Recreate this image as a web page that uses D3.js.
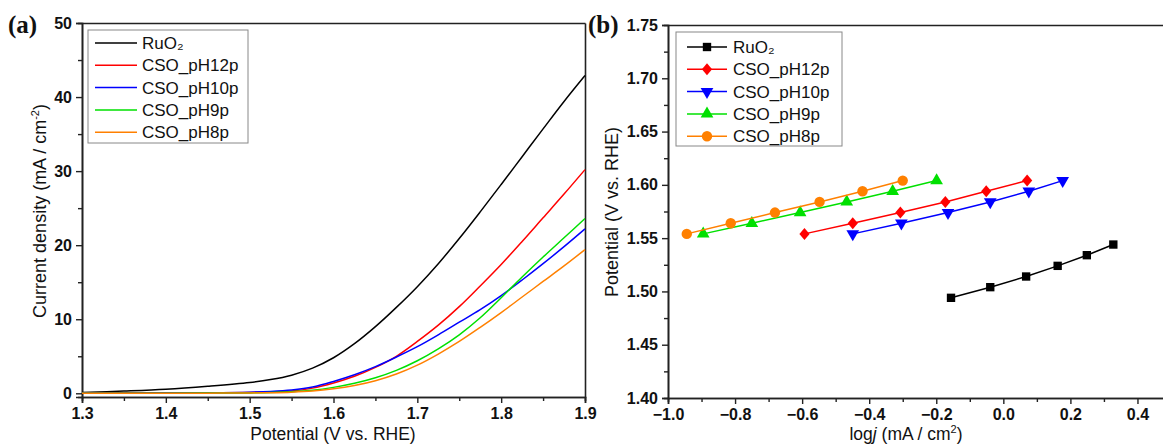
<!DOCTYPE html>
<html><head><meta charset="utf-8">
<script src="https://cdn.jsdelivr.net/npm/d3@7"></script>
<style>
html,body{margin:0;padding:0;background:#fff;overflow:hidden}
</style></head>
<body><svg id="c" width="1163" height="446" font-family="'Liberation Sans',Arial,sans-serif"></svg>
<script>
// ---------- Panel (a) data: LSV curves ----------
const potential = [1.30,1.35,1.40,1.45,1.50,1.525,1.55,1.575,1.60,1.625,1.65,1.675,1.70,1.725,1.75,1.775,1.80,1.825,1.85,1.875,1.90];
const jRuO2   = [0.1,0.3,0.55,0.95,1.45,1.85,2.45,3.4,4.8,6.7,9.0,11.6,14.4,17.5,20.9,24.5,28.2,31.95,35.7,39.4,42.9];
const jPH12   = [0.05,0.05,0.05,0.08,0.12,0.2,0.3,0.7,1.4,2.3,3.5,5.0,7.0,9.2,11.7,14.5,17.4,20.5,23.7,26.9,30.2];
const jPH10   = [0.05,0.05,0.06,0.08,0.15,0.25,0.45,0.85,1.6,2.5,3.6,4.9,6.3,7.9,9.6,11.3,13.2,15.3,17.5,19.8,22.2];
const jPH9    = [0.0,0.0,0.02,0.03,0.05,0.1,0.2,0.4,0.8,1.35,2.1,3.1,4.4,6.0,7.9,10.2,12.9,15.7,18.4,21.0,23.6];
const jPH8    = [0.0,0.0,0.0,0.02,0.05,0.08,0.15,0.3,0.6,1.05,1.7,2.6,3.8,5.3,7.0,8.9,10.9,13.0,15.1,17.2,19.4];
const seriesNames = ["RuO\u2082","CSO_pH12p","CSO_pH10p","CSO_pH9p","CSO_pH8p"];
const seriesColors = ["#000000","#ff0000","#0000ff","#00e000","#ff8000"];
const aXTicks = [1.3,1.4,1.5,1.6,1.7,1.8,1.9];
const aYTicks = [0,10,20,30,40,50];

// ---------- Panel (b) data: Tafel plots ----------
const tafelPot = [1.554,1.564,1.574,1.584,1.594,1.604];
const tafelRuO2Pot = [1.494,1.504,1.514,1.524,1.534,1.544];
const logjRuO2 = [-0.156,-0.039,0.068,0.162,0.249,0.328];
const logjPH12 = [-0.593,-0.449,-0.307,-0.173,-0.051,0.071];
const logjPH10 = [-0.449,-0.304,-0.165,-0.039,0.076,0.177];
const logjPH9  = [-0.895,-0.750,-0.606,-0.467,-0.330,-0.199];
const logjPH8  = [-0.944,-0.813,-0.681,-0.548,-0.420,-0.300];
const bXTicks = [-1.0,-0.8,-0.6,-0.4,-0.2,0.0,0.2,0.4];
const bYTicks = [1.40,1.45,1.50,1.55,1.60,1.65,1.70,1.75];

const svg = d3.select("#c");
const axisColor = "#222";

function styleAxis(g){
  g.select(".domain").attr("stroke",axisColor).attr("stroke-width",1.6);
  g.selectAll(".tick line").attr("stroke",axisColor).attr("stroke-width",1.4);
  g.selectAll(".tick text").attr("font-family","'Liberation Sans',Arial,sans-serif")
    .attr("font-weight","bold").attr("font-size",16).attr("fill","#111");
}

// ================= Panel (a) =================
const ax = d3.scaleLinear().domain([1.3,1.9]).range([82,585]);
const ay = d3.scaleLinear().domain([-0.5,50]).range([397,23]);

svg.append("g").attr("transform","translate(0,397)")
  .call(d3.axisBottom(ax).tickValues(d3.range(1.35,1.9,0.1)).tickSize(4).tickFormat(""))
  .call(styleAxis);
svg.append("g").attr("transform","translate(82,0)")
  .call(d3.axisLeft(ay).tickValues([5,15,25,35,45]).tickSize(4).tickFormat(""))
  .call(styleAxis);
svg.append("g").attr("transform","translate(0,397)")
  .call(d3.axisBottom(ax).tickValues(aXTicks).tickSize(6).tickPadding(5).tickFormat(d3.format(".1f")))
  .call(styleAxis);
svg.append("g").attr("transform","translate(82,0)")
  .call(d3.axisLeft(ay).tickValues(aYTicks).tickSize(6).tickPadding(4).tickFormat(d3.format("d")))
  .call(styleAxis);
svg.append("g").attr("transform","translate(0,23)")
  .call(d3.axisTop(ax).tickValues([]).tickSizeOuter(0)).call(styleAxis);
svg.append("g").attr("transform","translate(585,0)")
  .call(d3.axisRight(ay).tickValues([]).tickSizeOuter(0)).call(styleAxis);

const aSeries = [jRuO2,jPH12,jPH10,jPH9,jPH8];
const line = d3.line().x(d=>ax(d[0])).y(d=>ay(d[1])).curve(d3.curveCatmullRom.alpha(0.5));
[0,1,2,3,4].forEach(i=>{
  svg.append("path").datum(potential.map((p,k)=>[p,aSeries[i][k]]))
    .attr("d",line).attr("fill","none").attr("stroke",seriesColors[i]).attr("stroke-width",1.5);
});

// legend (a)
const legA = svg.append("g");
legA.append("rect").attr("x",88).attr("y",30).attr("width",160).attr("height",113)
  .attr("fill","#fff").attr("stroke","#888").attr("stroke-width",1);
seriesNames.forEach((n,i)=>{
  const yy = 43 + i*22.3;
  legA.append("line").attr("x1",95).attr("x2",137).attr("y1",yy).attr("y2",yy)
    .attr("stroke",seriesColors[i]).attr("stroke-width",1.5);
  legA.append("text").attr("x",142).attr("y",yy+6).attr("font-size",17).attr("fill","#111").text(n);
});

svg.append("text").attr("x",8).attr("y",33).attr("font-family","'Liberation Serif','Times New Roman',serif")
  .attr("font-weight","bold").attr("font-size",25).attr("fill","#111").text("(a)");
const ytA = svg.append("text").attr("transform","translate(46,211) rotate(-90)")
  .attr("text-anchor","middle").attr("font-size",18).attr("fill","#111");
ytA.append("tspan").text("Current density (mA / cm");
ytA.append("tspan").attr("dy",-7).attr("font-size",11).text("-2");
ytA.append("tspan").attr("dy",7).text(")");
svg.append("text").attr("x",333).attr("y",440).attr("text-anchor","middle")
  .attr("font-size",17.5).attr("fill","#111").text("Potential (V vs. RHE)");

// ================= Panel (b) =================
const bx = d3.scaleLinear().domain([-1.0,0.5]).range([668,1171]);
const by = d3.scaleLinear().domain([1.40,1.75]).range([398,25]);

svg.append("g").attr("transform","translate(0,398)")
  .call(d3.axisBottom(bx).tickValues(d3.range(-0.9,0.5,0.2)).tickSize(4).tickFormat(""))
  .call(styleAxis);
svg.append("g").attr("transform","translate(668,0)")
  .call(d3.axisLeft(by).tickValues(d3.range(1.425,1.75,0.05)).tickSize(4).tickFormat(""))
  .call(styleAxis);
svg.append("g").attr("transform","translate(0,398)")
  .call(d3.axisBottom(bx).tickValues(bXTicks).tickSize(6).tickPadding(5).tickFormat(d3.format(".1f")))
  .call(styleAxis);
svg.append("g").attr("transform","translate(668,0)")
  .call(d3.axisLeft(by).tickValues(bYTicks).tickSize(6).tickPadding(4).tickFormat(d3.format(".2f")))
  .call(styleAxis);
svg.append("g").attr("transform","translate(0,25)")
  .call(d3.axisTop(bx).tickValues([]).tickSizeOuter(0)).call(styleAxis);

const bSeries = [
  {x:logjRuO2,y:tafelRuO2Pot,sym:d3.symbolSquare,size:70,rot:0},
  {x:logjPH12,y:tafelPot,sym:d3.symbolDiamond,size:80,rot:0},
  {x:logjPH10,y:tafelPot,sym:d3.symbolTriangle,size:70,rot:180},
  {x:logjPH9,y:tafelPot,sym:d3.symbolTriangle,size:70,rot:0},
  {x:logjPH8,y:tafelPot,sym:d3.symbolCircle,size:85,rot:0}
];
const lineB = d3.line().x(d=>bx(d[0])).y(d=>by(d[1]));
function diamondPath(s){
  return `M0,${-s}L${s*0.85},0L0,${s}L${-s*0.85},0Z`;
}
bSeries.forEach((s,i)=>{
  const pts = s.x.map((v,k)=>[v,s.y[k]]);
  svg.append("path").datum(pts).attr("d",lineB).attr("fill","none")
    .attr("stroke",seriesColors[i]).attr("stroke-width",1.5);
  svg.append("g").selectAll("path").data(pts).join("path")
    .attr("transform",d=>`translate(${bx(d[0])},${by(d[1])}) rotate(${s.rot})`)
    .attr("d",i===1?diamondPath(6):d3.symbol().type(s.sym).size(s.size)())
    .attr("fill",seriesColors[i]);
});

// legend (b)
const legB = svg.append("g");
legB.append("rect").attr("x",676).attr("y",32).attr("width",166).attr("height",114)
  .attr("fill","#fff").attr("stroke","#888").attr("stroke-width",1);
seriesNames.forEach((n,i)=>{
  const yy = 47 + i*22.3;
  legB.append("line").attr("x1",687).attr("x2",727).attr("y1",yy).attr("y2",yy)
    .attr("stroke",seriesColors[i]).attr("stroke-width",1.5);
  const s = bSeries[i];
  legB.append("path").attr("transform",`translate(707,${yy}) rotate(${s.rot})`)
    .attr("d",i===1?diamondPath(6):d3.symbol().type(s.sym).size(s.size)())
    .attr("fill",seriesColors[i]);
  legB.append("text").attr("x",733).attr("y",yy+6).attr("font-size",17).attr("fill","#111").text(n);
});

svg.append("text").attr("x",588).attr("y",33).attr("font-family","'Liberation Serif','Times New Roman',serif")
  .attr("font-weight","bold").attr("font-size",25).attr("fill","#111").text("(b)");
svg.append("text").attr("transform","translate(618,212) rotate(-90)")
  .attr("text-anchor","middle").attr("font-size",18).attr("fill","#111").text("Potential (V vs. RHE)");
const xtB = svg.append("text").attr("x",906).attr("y",440).attr("text-anchor","middle")
  .attr("font-size",17.5).attr("fill","#111");
xtB.append("tspan").text("log");
xtB.append("tspan").attr("font-style","italic").text("j");
xtB.append("tspan").text(" (mA / cm");
xtB.append("tspan").attr("dy",-7).attr("font-size",11).text("2");
xtB.append("tspan").attr("dy",7).text(")");
</script></body></html>
